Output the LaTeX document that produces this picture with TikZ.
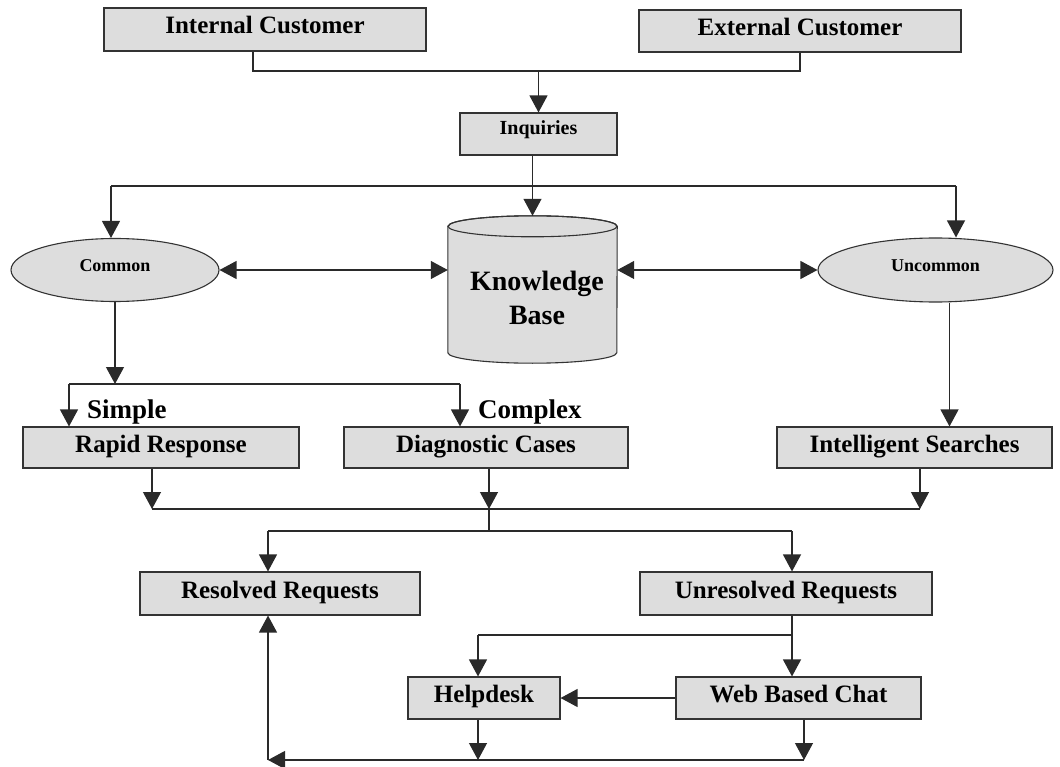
\documentclass[tikz,border=0pt]{standalone}
\usepackage{fontspec}
\setmainfont{Liberation Serif}
\usetikzlibrary{arrows.meta,shapes.geometric}
\definecolor{boxfill}{HTML}{DDDDDD}
\definecolor{edgec}{HTML}{333333}
\definecolor{linec}{HTML}{2A2A2A}
\begin{document}
\begin{tikzpicture}[x=1pt,y=-1pt,
 box/.style={draw=edgec, fill=boxfill, line width=1.1pt, rectangle, inner sep=0pt, font=\bfseries\fontsize{25}{28}\selectfont, text height=17pt, text depth=8pt},
 oval/.style={draw=edgec, fill=boxfill, line width=1.1pt, ellipse, inner sep=0pt, font=\bfseries\fontsize{18}{20}\selectfont, text height=12pt, text depth=8pt},
 conn/.style={draw=linec, line width=1.2pt},
 arr/.style={conn, -{Triangle[length=17pt,width=18pt]}},
 arrb/.style={conn, {Triangle[length=17pt,width=18pt]}-{Triangle[length=17pt,width=18pt]}},
 tag/.style={font=\bfseries\fontsize{27}{30}\selectfont, inner sep=0pt}
]
\useasboundingbox (0,0) rectangle (1060,767);

% boxes
\node[box, minimum width=322pt, minimum height=43pt] (ic) at (265,29.5) {Internal Customer};
\node[box, minimum width=322pt, minimum height=42pt] (ec) at (800,31) {External Customer};
\node[box, minimum width=157pt, minimum height=42pt, font=\bfseries\fontsize{20}{22}\selectfont, text height=14pt, text depth=12pt] (inq) at (538.5,134) {Inquiries};
\node[oval, minimum width=208pt, minimum height=63pt] (common) at (115,270) {Common};
\node[oval, minimum width=235pt, minimum height=64pt] (uncommon) at (935.5,270) {Uncommon};

% knowledge base cylinder
\node[minimum width=169pt, minimum height=147pt, inner sep=0pt] (kb) at (532.5,289.5) {};
\path[draw=edgec, fill=boxfill, line width=1.1pt]
  ([yshift=-10.5pt]kb.north west) -- ([yshift=10.5pt]kb.south west)
  arc[start angle=180, end angle=360, x radius=84.5pt, y radius=10.5pt]
  -- ([yshift=-10.5pt]kb.north east)
  arc[start angle=0, end angle=180, x radius=84.5pt, y radius=10.5pt] -- cycle;
\draw[draw=edgec, line width=1.1pt] ([yshift=-10.5pt]kb.north) ellipse[x radius=84.5pt, y radius=10.5pt];
\node[align=center, inner sep=0pt, font=\bfseries\fontsize{28}{34}\selectfont] (kblabel) at (537,298) {Knowledge\\Base};

\node[box, minimum width=276pt, minimum height=41pt] (rapid) at (161,447.5) {Rapid Response};
\node[box, minimum width=284pt, minimum height=41pt] (diag) at (486,447.5) {Diagnostic Cases};
\node[box, minimum width=275pt, minimum height=41pt] (isearch) at (914.5,447.5) {Intelligent Searches};
\node[tag, anchor=base west] (simple) at (87,418) {Simple};
\node[tag, anchor=base west] (complex) at (478,418) {Complex};

\node[box, minimum width=280pt, minimum height=43pt] (resolved) at (280,593.5) {Resolved Requests};
\node[box, minimum width=292pt, minimum height=43pt] (unresolved) at (786,593.5) {Unresolved Requests};
\node[box, minimum width=152pt, minimum height=42pt] (help) at (484,698) {Helpdesk};
\node[box, minimum width=245pt, minimum height=42pt] (web) at (798.5,698) {Web Based Chat};

% customers -> inquiries
\coordinate (t1) at (538.5,71);
\draw[conn] ([xshift=-12pt]ic.south) |- (t1) -| (ec.south);
\draw[arr] (t1) -- (inq.north);

% inquiries -> common / kb / uncommon
\coordinate (t2) at (532.5,186);
\coordinate (bl) at (111,186);
\coordinate (br) at (956,186);
\draw[conn] ([xshift=-6pt]inq.south) -- (t2);
\draw[conn] (bl) -- (br);
\draw[arr] (bl) -- (bl |- common.north);
\draw[arr] (t2) -- (kb.north);
\draw[arr] (br) -- (br |- uncommon.north);

% kb links
\draw[arrb] (common.east) -- (common.east -| kb.west);
\draw[arrb] (kb.east |- uncommon.west) -- (uncommon.west);

% common -> simple / complex
\coordinate (t3) at (115,384);
\coordinate (sl) at (69,384);
\coordinate (sr) at (460,384);
\draw[arr] (common.south) -- (t3);
\draw[conn] (sl) -- (sr);
\draw[arr] (sl) -- (sl |- rapid.north);
\draw[arr] (sr) -- (sr |- diag.north);

% uncommon -> intelligent searches
\coordinate (u0) at ([xshift=14pt]uncommon.south);
\draw[arr] (u0) -- (u0 |- isearch.north);

% merge
\coordinate (t4) at (489,509);
\coordinate (r1) at ([xshift=-9pt]rapid.south);
\coordinate (d1) at ([xshift=3pt]diag.south);
\coordinate (i1) at ([xshift=5.5pt]isearch.south);
\draw[arr] (r1) -- (r1 |- t4);
\draw[arr] (d1) -- (t4);
\draw[arr] (i1) -- (i1 |- t4);
\draw[conn] (r1 |- t4) -- (i1 |- t4);

% split to resolved / unresolved
\coordinate (t5) at (489,531);
\coordinate (rl) at (268,531);
\coordinate (rr) at (792,531);
\draw[conn] (t4) -- (t5);
\draw[conn] (rl) -- (rr);
\draw[arr] (rl) -- (rl |- resolved.north);
\draw[arr] (rr) -- (rr |- unresolved.north);

% unresolved -> helpdesk / web chat
\coordinate (u1) at ([xshift=6pt]unresolved.south);
\coordinate (hl) at (478,635);
\draw[arr] (u1) -- (u1 |- web.north);
\draw[conn] (hl) -- (u1 |- hl);
\draw[arr] (hl) -- (hl |- help.north);
\draw[arr] (web.west) -- (help.east);

% back to resolved
\coordinate (c1) at (268,760);
\coordinate (c2) at (804,760);
\coordinate (h1) at ([xshift=-6pt]help.south);
\draw[arr] (h1) -- (h1 |- c1);
\draw[arr] ([xshift=5.5pt]web.south) -- (c2);
\draw[arr] (c2) -- (c1);
\draw[arr] (c1) -- (c1 |- resolved.south);
\end{tikzpicture}
\end{document}
